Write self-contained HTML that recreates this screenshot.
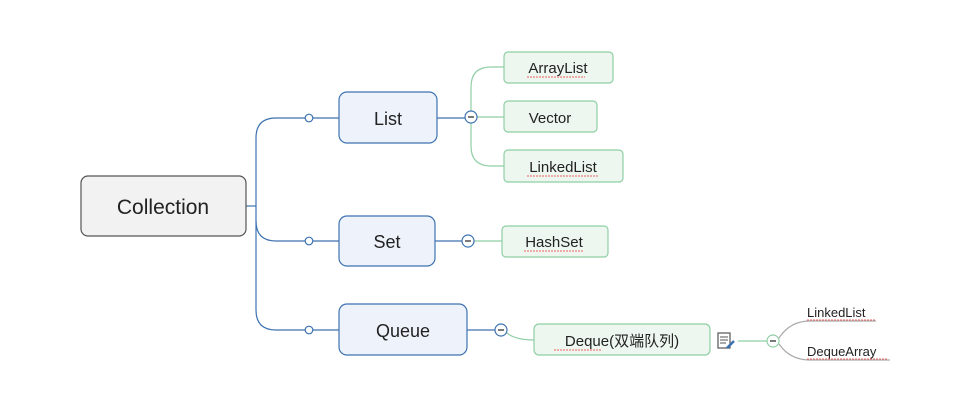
<!DOCTYPE html>
<html><head><style>body{margin:0;background:#fff}svg{display:block}text{font-family:"Liberation Sans","Noto Sans CJK SC",sans-serif;fill:#222}</style></head><body>
<svg width="968" height="406" viewBox="0 0 968 406" xmlns="http://www.w3.org/2000/svg">
<g fill="none" stroke="#3d72b0" stroke-width="1.2">
<path d="M246 206H256"/>
<path d="M305 118H276Q256 118 256 138V310Q256 330 276 330H305"/>
<path d="M256 221Q256 241 276 241H305"/>
<path d="M313 118H339M313 241H339M313 330H339"/>
<path d="M437 118H465M435 241H462M467 330H495"/>
</g>
<g fill="#fff" stroke="#3d72b0" stroke-width="1.2">
<circle cx="309" cy="118" r="3.8"/><circle cx="309" cy="241" r="3.8"/><circle cx="309" cy="330" r="3.8"/>
</g>
<g fill="none" stroke="#8fcfa5" stroke-width="1.2">
<path d="M504 67H491Q471 67 471 87V146Q471 166 491 166H504"/>
<path d="M477 117H504M474 241H502"/>
<path d="M507 333Q515 340 534 340"/>
<path d="M738 341H767"/>
</g>
<g fill="none" stroke="#aaa" stroke-width="1.2">
<path d="M779 338Q790 321 810 321H876"/>
<path d="M779 344Q790 360 810 360H890"/>
</g>
<g fill="#fff" stroke-width="1.2">
<circle cx="471" cy="117" r="6" stroke="#3d72b0"/><path d="M468 117h6" stroke="#222"/>
<circle cx="468" cy="241" r="6" stroke="#3d72b0"/><path d="M465 241h6" stroke="#222"/>
<circle cx="501" cy="330" r="6" stroke="#3d72b0"/><path d="M498 330h6" stroke="#222"/>
<circle cx="773" cy="341" r="6" stroke="#8fcfa5"/><path d="M770 341h6" stroke="#222"/>
</g>
<rect x="81" y="176" width="165" height="60" rx="7" fill="#f2f2f2" stroke="#555" stroke-width="1.2"/>
<text x="163" y="214" font-size="21" text-anchor="middle">Collection</text>
<g fill="#eef3fb" stroke="#3d72b0" stroke-width="1.2">
<rect x="339" y="92" width="98" height="51" rx="8"/>
<rect x="339" y="216" width="96" height="50" rx="8"/>
<rect x="339" y="304" width="128" height="51" rx="8"/>
</g>
<text x="388" y="125" font-size="18" text-anchor="middle">List</text>
<text x="387" y="248" font-size="18" text-anchor="middle">Set</text>
<text x="403" y="337" font-size="18" text-anchor="middle">Queue</text>
<g fill="#edf6ef" stroke="#8fcfa5" stroke-width="1.2">
<rect x="504" y="52" width="109" height="31" rx="4"/>
<rect x="504" y="101" width="93" height="31" rx="4"/>
<rect x="504" y="150" width="119" height="32" rx="4"/>
<rect x="502" y="226" width="106" height="31" rx="4"/>
<rect x="534" y="324" width="176" height="31" rx="5"/>
</g>
<g font-size="15" text-anchor="middle">
<text x="558" y="73">ArrayList</text>
<text x="550" y="123">Vector</text>
<text x="563" y="172">LinkedList</text>
<text x="554" y="247">HashSet</text>
<text x="622" y="346">Deque(双端队列)</text>
</g>
<g font-size="13">
<text x="807" y="317">LinkedList</text>
<text x="807" y="356">DequeArray</text>
</g>
<g fill="none" stroke="#e33" stroke-width="0.8" stroke-dasharray="2 1">
<path d="M527 77h58M527 176h72M524 251h60M554 350h48M807 320h68M807 359h80"/>
</g>
<g>
<rect x="718" y="333" width="12" height="15" fill="#fff" stroke="#555" stroke-width="1.2"/>
<path d="M720 337h8M720 340h8M720 343h6" stroke="#555"/>
<path d="M727 348l7-7" stroke="#3d72b0" stroke-width="2.5"/>
</g>
</svg>
</body></html>
